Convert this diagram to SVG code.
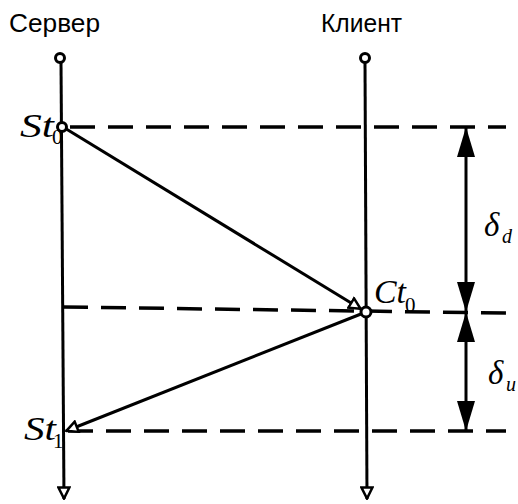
<svg xmlns="http://www.w3.org/2000/svg" width="518" height="504" viewBox="0 0 518 504">
<style>
.axis{stroke:#000;stroke-width:3;fill:none}
.dash{stroke:#000;stroke-width:3.5;fill:none;stroke-dasharray:25 13}
.msg{stroke:#000;stroke-width:3;fill:none}
.lbl{font-family:"Liberation Sans",Arial,sans-serif;font-size:25px;fill:#000}
.math{font-family:"Liberation Serif","Times New Roman",serif;font-style:italic;font-size:33px;fill:#000}
.sub{font-family:"Liberation Serif","Times New Roman",serif;font-size:21px;fill:#000}
</style>
<defs>
<marker id="open" viewBox="0 0 14 14" refX="13" refY="7" markerWidth="14" markerHeight="14" markerUnits="userSpaceOnUse" orient="auto">
<path d="M1.5,1.5 L12.5,7 L1.5,12.5 Z" fill="#fff" stroke="#000" stroke-width="2.5"/>
</marker>
<marker id="fill" viewBox="0 0 30 18" refX="30" refY="9" markerWidth="30" markerHeight="18" markerUnits="userSpaceOnUse" orient="auto">
<path d="M0,0 L30,9 L0,18 Z" fill="#000"/>
</marker>
</defs>
<g id="connectors">
<line class="dash" x1="62" y1="127" x2="506" y2="127" stroke-dashoffset="-8"/>
<line class="dash" x1="63" y1="307" x2="506" y2="313"/>
<line class="dash" x1="68" y1="431" x2="506" y2="431"/>
<line class="msg" x1="63" y1="127" x2="361" y2="309" marker-end="url(#open)"/>
<line class="msg" x1="366" y1="312" x2="66" y2="431" marker-end="url(#open)"/>
<line class="axis" x1="466" y1="150" x2="466" y2="127" marker-end="url(#fill)"/>
<line class="axis" x1="466" y1="150" x2="466" y2="312" marker-end="url(#fill)"/>
<line class="axis" x1="466" y1="370" x2="466" y2="312" marker-end="url(#fill)"/>
<line class="axis" x1="466" y1="370" x2="466" y2="431" marker-end="url(#fill)"/>
</g>
<g id="server">
<text class="lbl" x="9" y="32" textLength="91" lengthAdjust="spacingAndGlyphs">Сервер</text>
<line class="axis" x1="61" y1="62" x2="64" y2="499" marker-end="url(#open)"/>
<circle cx="60" cy="58" r="4.5" fill="#fff" stroke="#000" stroke-width="3"/>
</g>
<g id="client">
<text class="lbl" x="321" y="32" textLength="81" lengthAdjust="spacingAndGlyphs">Клиент</text>
<line class="axis" x1="365" y1="62" x2="367" y2="499" marker-end="url(#open)"/>
<circle cx="365" cy="58" r="4.5" fill="#fff" stroke="#000" stroke-width="3"/>
</g>
<g id="St0">
<circle cx="62" cy="127" r="4.5" fill="#fff" stroke="#000" stroke-width="3"/>
<text class="math" x="20" y="137" textLength="34" lengthAdjust="spacingAndGlyphs">St</text>
<text class="sub" x="52" y="144">0</text>
</g>
<g id="Ct0">
<circle cx="366" cy="312" r="5" fill="#fff" stroke="#000" stroke-width="3"/>
<text class="math" x="374" y="303" textLength="32" lengthAdjust="spacingAndGlyphs">Ct</text>
<text class="sub" x="405" y="312">0</text>
</g>
<g id="St1">
<text class="math" x="24" y="440" textLength="32" lengthAdjust="spacingAndGlyphs">St</text>
<text class="sub" x="53" y="448">1</text>
</g>
<g id="delta_d">
<text class="math" x="484" y="236">δ</text>
<text class="math" x="502" y="243" style="font-size:20px">d</text>
</g>
<g id="delta_u">
<text class="math" x="488" y="384">δ</text>
<text class="math" x="506" y="391" style="font-size:20px">u</text>
</g>
</svg>
